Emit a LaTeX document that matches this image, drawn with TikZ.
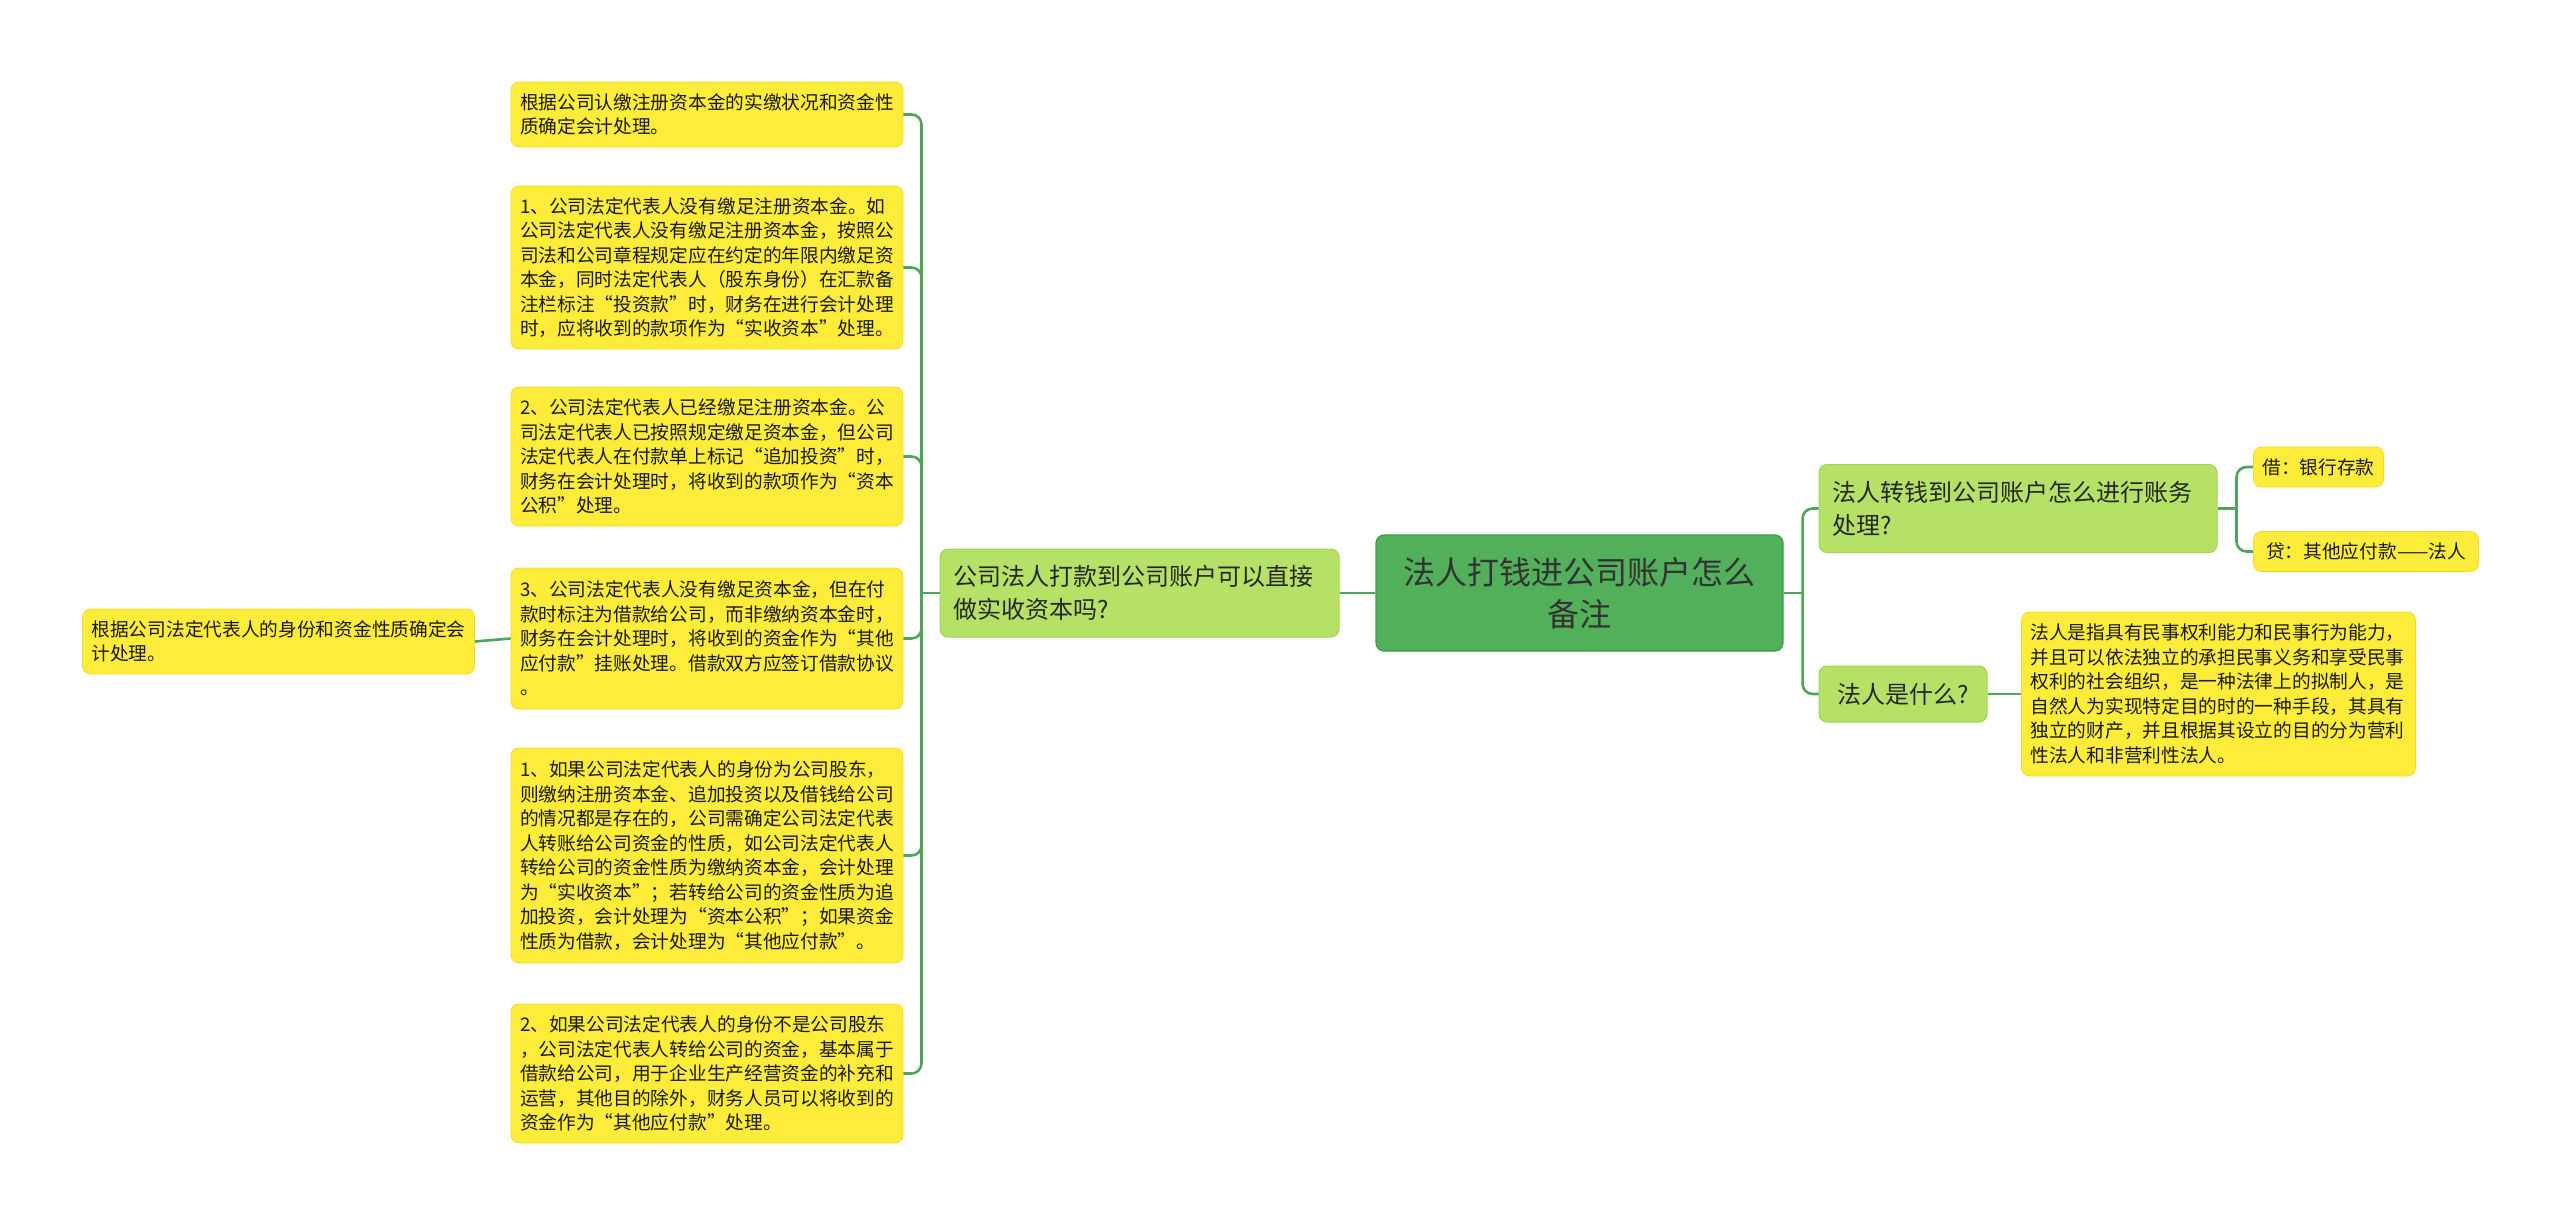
\documentclass[tikz,border=0pt]{standalone}
\usepackage{fontspec}
\setmainfont{Noto Sans CJK SC}
\definecolor{rootgreen}{HTML}{52B05B}
\definecolor{rootline}{HTML}{3F9C48}
\definecolor{topicgreen}{HTML}{B5E166}
\definecolor{topicline}{HTML}{A2D353}
\definecolor{noteyellow}{HTML}{FDEC3A}
\definecolor{noteline}{HTML}{F1DC2E}
\definecolor{linkgreen}{HTML}{4FA65A}
\tikzset{
  rootnode/.style={draw=rootline,fill=rootgreen,line width=0.6pt,rounded corners=4pt,align=center,
    minimum width=203.5pt,minimum height=58pt,text=black!80,font=\fontsize{16pt}{21pt}\selectfont},
  topicnode/.style={draw=topicline,fill=topicgreen,line width=0.5pt,rounded corners=4pt,align=left,
    inner xsep=6.5pt,minimum height=44pt,text=black!85,font=\fontsize{12pt}{16.5pt}\selectfont},
  notenode/.style={draw=noteline,fill=noteyellow,line width=0.4pt,rounded corners=4pt,align=left,
    inner xsep=4.5pt,text=black!90,font=\fontsize{9.35pt}{12.25pt}\selectfont},
  link/.style={draw=linkgreen,line width=1.3pt,rounded corners=5pt},
}
\begin{document}
\begin{tikzpicture}[x=0.5pt,y=-0.5pt]
  \useasboundingbox (0,0) rectangle (2560,1225);
  % centre and first level
  \node[rootnode] (root) at (1579.5,593) {法人打钱进公司账户怎么\\备注};
  \node[topicnode,text width=186.5pt] (capital) at (1139.5,593) {公司法人打款到公司账户可以直接\\做实收资本吗?};
  \node[topicnode,text width=186pt] (entry) at (2018,508.5) {法人转钱到公司账户怎么进行账务\\处理?};
  \node[topicnode,minimum height=28pt,minimum width=84pt] (whatis) at (1903,694) {法人是什么?};
  % right notes
  \node[notenode,anchor=west,minimum height=20pt] (debit) at (2253,467) {借：银行存款};
  \node[notenode,anchor=west,minimum height=20pt,minimum width=112.5pt] (credit) at (2253,551.5) {贷：其他应付款——法人};
  \node[notenode,text width=188pt,minimum height=82pt] (define) at (2218.5,694) {法人是指具有民事权利能力和民事行为能力，\\并且可以依法独立的承担民事义务和享受民事\\权利的社会组织，是一种法律上的拟制人，是\\自然人为实现特定目的时的一种手段，其具有\\独立的财产，并且根据其设立的目的分为营利\\性法人和非营利性法人。};
  % left notes
  \node[notenode,text width=187pt,minimum height=32.5pt] (n1) at (707,114.5) {根据公司认缴注册资本金的实缴状况和资金性\\质确定会计处理。};
  \node[notenode,text width=187pt,minimum height=81.5pt] (n2) at (707,267.5) {1、公司法定代表人没有缴足注册资本金。如\\公司法定代表人没有缴足注册资本金，按照公\\司法和公司章程规定应在约定的年限内缴足资\\本金，同时法定代表人（股东身份）在汇款备\\注栏标注“投资款”时，财务在进行会计处理\\时，应将收到的款项作为“实收资本”处理。};
  \node[notenode,text width=187pt,minimum height=69.5pt] (n3) at (707,456.5) {2、公司法定代表人已经缴足注册资本金。公\\司法定代表人已按照规定缴足资本金，但公司\\法定代表人在付款单上标记“追加投资”时，\\财务在会计处理时，将收到的款项作为“资本\\公积”处理。};
  \node[notenode,text width=187pt,minimum height=70.5pt] (n4) at (707,638.5) {3、公司法定代表人没有缴足资本金，但在付\\款时标注为借款给公司，而非缴纳资本金时，\\财务在会计处理时，将收到的资金作为“其他\\应付款”挂账处理。借款双方应签订借款协议\\。};
  \node[notenode,text width=187pt,minimum height=107.5pt] (n5) at (707,855.5) {1、如果公司法定代表人的身份为公司股东，\\则缴纳注册资本金、追加投资以及借钱给公司\\的情况都是存在的，公司需确定公司法定代表\\人转账给公司资金的性质，如公司法定代表人\\转给公司的资金性质为缴纳资本金，会计处理\\为“实收资本”；若转给公司的资金性质为追\\加投资，会计处理为“资本公积”；如果资金\\性质为借款，会计处理为“其他应付款”。};
  \node[notenode,text width=187pt,minimum height=69.5pt] (n6) at (707,1073.5) {2、如果公司法定代表人的身份不是公司股东\\，公司法定代表人转给公司的资金，基本属于\\借款给公司，用于企业生产经营资金的补充和\\运营，其他目的除外，财务人员可以将收到的\\资金作为“其他应付款”处理。};
  \node[notenode,text width=187pt,minimum height=32.5pt] (basis) at (278.5,641.5) {根据公司法定代表人的身份和资金性质确定会\\计处理。};
  % connectors
  \draw[link] (root.west) -- (capital.east);
  \draw[link] (root.east) -- ++(19,0) coordinate (rfork);
  \foreach \t in {entry,whatis}
    \draw[link] (rfork) |- (\t.west);
  \draw[link] (entry.east) -- ++(19,0) coordinate (efork);
  \foreach \t in {debit,credit}
    \draw[link] (efork) |- (\t.west);
  \draw[link] (whatis.east) -- (define.west);
  \draw[link] (capital.west) -- ++(-18,0) coordinate (lfork);
  \foreach \t in {n1,n2,n3,n4,n5,n6}
    \draw[link] (lfork) |- (\t.east);
  \draw[link] (n4.west) -- (basis.east);
\end{tikzpicture}
\end{document}
